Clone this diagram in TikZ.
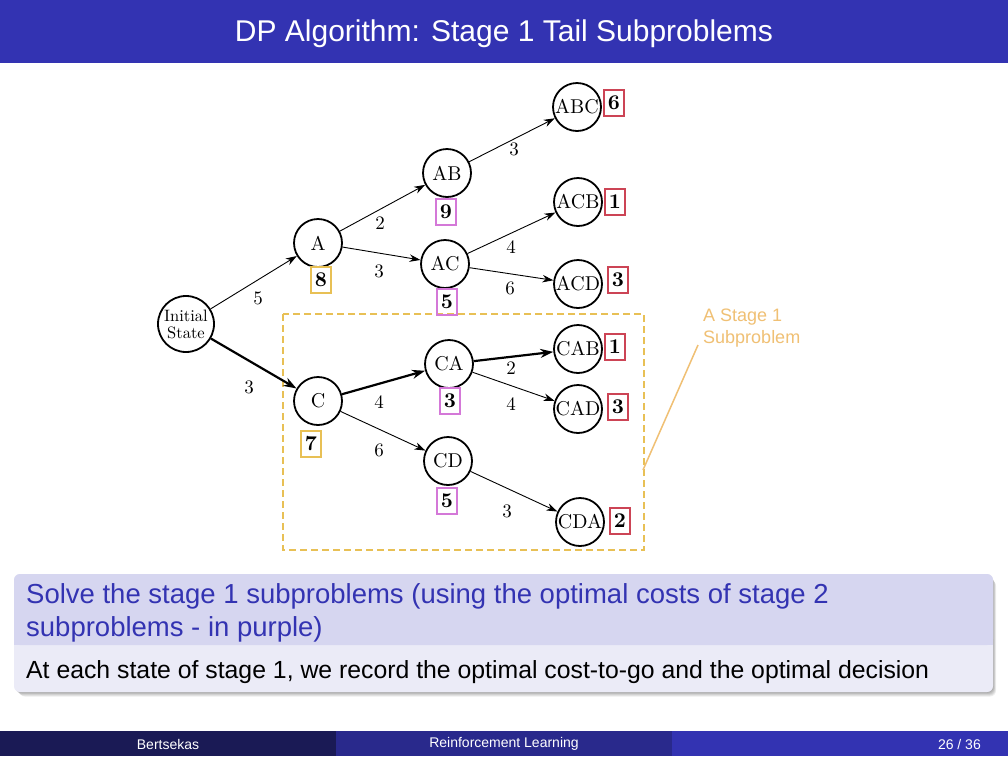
\documentclass[tikz,border=0pt]{standalone}
\usepackage{fontspec}
\newfontfamily\slidesf{Liberation Sans}
\newfontfamily\lmten{lmroman10-regular}[Extension=.otf, BoldFont=lmroman10-bold]
\usetikzlibrary{arrows.meta}
\definecolor{struct}{rgb}{0.2,0.2,0.7}
\definecolor{footA}{HTML}{1A1A55}
\definecolor{footB}{HTML}{29298C}
\definecolor{btitle}{HTML}{D6D6F0}
\definecolor{bbody}{HTML}{EBEBF7}
\definecolor{gold}{HTML}{E8C055}
\definecolor{purp}{HTML}{D478D8}
\definecolor{redb}{HTML}{CC4455}
\definecolor{annot}{HTML}{F0C074}
\tikzset{
  state/.style={circle, draw, line width=1.8pt, minimum size=48pt, inner sep=0pt, font=\lmten\fontsize{20}{20}\selectfont},
  cost/.style={draw, line width=1.5pt, minimum height=26pt, minimum width=16pt, inner xsep=4pt, inner ysep=2pt, font=\lmten\fontsize{21}{21}\selectfont\bfseries},
  edge/.style={line width=0.9pt, -{Stealth[length=11pt,width=7.5pt]}},
  opt/.style={line width=2.2pt, -{Stealth[length=13pt,width=9pt]}},
  lbl/.style={font=\lmten\fontsize{19}{19}\selectfont, inner sep=0pt},
  foottext/.style={text=white, font=\slidesf\fontsize{14}{14}\selectfont, inner sep=0pt}
}
\begin{document}
\begin{tikzpicture}[x=1pt,y=-1pt]
\useasboundingbox (0,0) rectangle (1008,756);
\fill[white] (0,0) rectangle (1008,756);
% title bar
\fill[struct] (0,0) rectangle (1008,63);
\node[text=white, font=\slidesf\fontsize{30}{30}\selectfont, inner sep=0pt] (title) at (504,34) {DP Algorithm: Stage 1 Tail Subproblems};
% footer
\fill[footA] (0,731) rectangle (336,756);
\fill[footB] (336,731) rectangle (672,756);
\fill[struct] (672,731) rectangle (1008,756);
\node[foottext] (fa) at (168,744) {Bertsekas};
\node[foottext] (fb) at (504,744) {Reinforcement Learning};
\node[foottext, anchor=east] (fc) at (981,744) {26 / 36};
% block shadow
\foreach \d in {1,2,3,4,5}{
  \fill[black, opacity=0.07, rounded corners=6pt] (14+\d,574+\d+1) rectangle (993+\d*0.6,692+\d*0.9);
}
\fill[bbody, rounded corners=6pt] (14,574) rectangle (993,692);
\fill[btitle, rounded corners=6pt] (14,574) rectangle (993,645);
\fill[btitle] (14,630) rectangle (993,645);
\node[anchor=base west, text=struct, font=\slidesf\fontsize{27.5}{33}\selectfont, inner sep=0pt, align=left] (bt) at (26,636) {Solve the stage 1 subproblems (using the optimal costs of stage 2\\subproblems - in purple)};
\node[anchor=base west, font=\slidesf\fontsize{24.8}{30}\selectfont, inner sep=0pt] (bb) at (26,678) {At each state of stage 1, we record the optimal cost-to-go and the optimal decision};
% dashed subproblem region
\draw[gold, line width=1.6pt, dash pattern=on 7pt off 4pt] (283,314) rectangle (644,550);
% states
\node[state, minimum size=56pt, align=center, font=\lmten\fontsize{16.5}{17}\selectfont] (init) at (186,324) {Initial\\State};
\node[state] (A) at (318,243) {A};
\node[state] (AB) at (447,173) {AB};
\node[state] (AC) at (445,264) {AC};
\node[state] (ABC) at (577,107) {ABC};
\node[state] (ACB) at (578,202) {ACB};
\node[state] (ACD) at (578,284) {ACD};
\node[state] (C) at (318,401) {C};
\node[state] (CA) at (449,364) {CA};
\node[state] (CD) at (448,461) {CD};
\node[state] (CAB) at (578,349) {CAB};
\node[state] (CAD) at (578,409) {CAD};
\node[state] (CDA) at (580,522) {CDA};
% costs
\node[cost, draw=gold] (cA) at (321,280) {8};
\node[cost, draw=gold] (cC) at (311,444) {7};
\node[cost, draw=purp] (cAB) at (446,212) {9};
\node[cost, draw=purp] (cAC) at (447,302) {5};
\node[cost, draw=purp] (cCA) at (450,401) {3};
\node[cost, draw=purp] (cCD) at (447,501) {5};
\node[cost, draw=redb] (cABC) at (614,103) {6};
\node[cost, draw=redb] (cACB) at (615,202) {1};
\node[cost, draw=redb] (cACD) at (618,280) {3};
\node[cost, draw=redb] (cCAB) at (615,347) {1};
\node[cost, draw=redb] (cCAD) at (618,407) {3};
\node[cost, draw=redb] (cCDA) at (620,521) {2};
% edges
\draw[edge] (init) -- (A);
\draw[opt] (init) -- (C);
\draw[edge] (A) -- (AB);
\draw[edge] (A) -- (AC);
\draw[edge] (AB) -- (ABC);
\draw[edge] (AC) -- (ACB);
\draw[edge] (AC) -- (ACD);
\draw[opt] (C) -- (CA);
\draw[edge] (C) -- (CD);
\draw[opt] (CA) -- (CAB);
\draw[edge] (CA) -- (CAD);
\draw[edge] (CD) -- (CDA);
% edge labels
\node[lbl] (l1) at (258,298) {5};
\node[lbl] (l2) at (249,387) {3};
\node[lbl] (l3) at (380,223) {2};
\node[lbl] (l4) at (379,271) {3};
\node[lbl] (l5) at (514,149) {3};
\node[lbl] (l6) at (511,247) {4};
\node[lbl] (l7) at (510,288) {6};
\node[lbl] (l8) at (379,402) {4};
\node[lbl] (l9) at (379,450) {6};
\node[lbl] (l10) at (511,368) {2};
\node[lbl] (l11) at (511,404) {4};
\node[lbl] (l12) at (507,511) {3};
% annotation
\node[anchor=north west, text=annot, font=\slidesf\fontsize{18}{22}\selectfont, inner sep=0pt, align=left] (ann) at (703,309) {A Stage 1\\Subproblem};
\coordinate (annEnd) at (643,470);
\draw[annot, line width=1.5pt] (698,345) -- (annEnd);
\end{tikzpicture}
\end{document}
